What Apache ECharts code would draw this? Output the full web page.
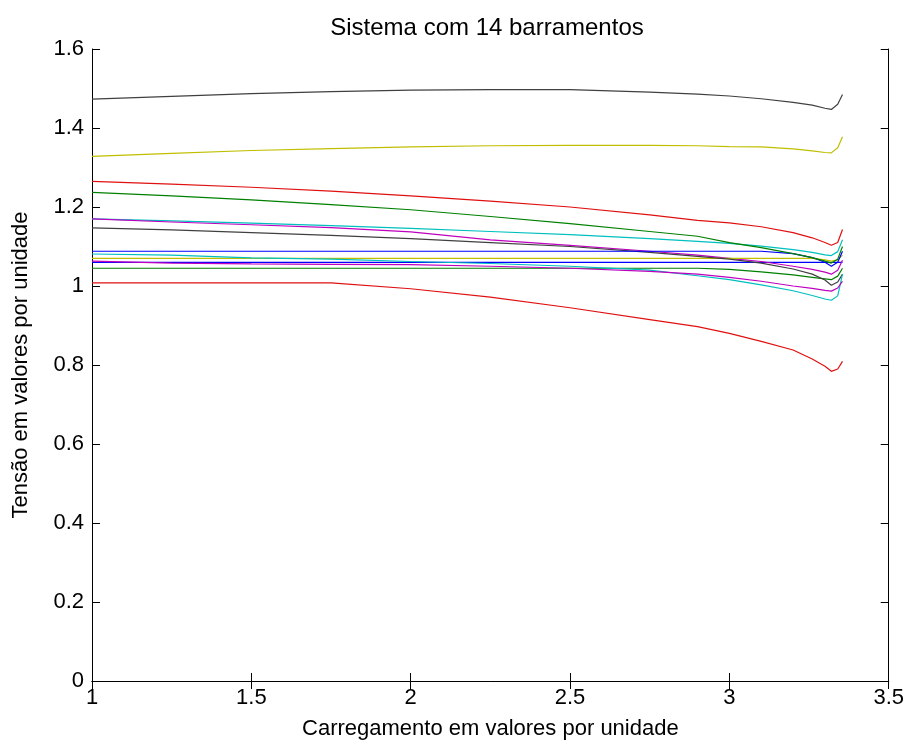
<!DOCTYPE html>
<html>
<head>
<meta charset="utf-8">
<script src="https://cdn.jsdelivr.net/npm/echarts@6/dist/echarts.min.js"></script>
<style>
html,body{margin:0;padding:0;background:#fff;}
#chart{width:907px;height:745px;}
</style>
</head>
<body>
<div id="chart"></div>
<script>
// Loading (x) values, p.u.
var loadX = [1.0, 1.25, 1.5, 1.75, 2.0, 2.25, 2.5, 2.75, 2.9, 3.0, 3.1, 3.2, 3.26, 3.3, 3.32, 3.34, 3.355];

// Bus voltages (p.u.)
var bus1  = [1.060,1.060,1.060,1.060,1.060,1.060,1.060,1.060,1.060,1.060,1.060,1.060,1.060,1.060,1.060,1.060,1.060];
var bus2  = [1.045,1.045,1.045,1.045,1.045,1.045,1.045,1.045,1.045,1.042,1.036,1.028,1.022,1.018,1.016,1.025,1.045];
var bus3  = [1.008,1.008,1.008,1.008,0.993,0.972,0.945,0.915,0.897,0.880,0.860,0.838,0.815,0.797,0.784,0.790,0.809];
var bus4  = [1.170,1.165,1.159,1.153,1.146,1.138,1.130,1.120,1.113,1.108,1.101,1.092,1.085,1.079,1.077,1.087,1.117];
var bus5  = [1.170,1.162,1.155,1.148,1.137,1.117,1.103,1.088,1.078,1.070,1.062,1.050,1.042,1.035,1.030,1.040,1.065];
var bus6  = [1.070,1.070,1.070,1.070,1.070,1.070,1.070,1.070,1.070,1.070,1.070,1.070,1.070,1.066,1.063,1.066,1.078];
var bus7  = [1.147,1.142,1.135,1.128,1.120,1.110,1.100,1.085,1.075,1.068,1.058,1.043,1.030,1.015,1.002,1.010,1.030];
var bus8  = [1.088,1.088,1.088,1.088,1.088,1.088,1.088,1.088,1.088,1.088,1.088,1.082,1.072,1.060,1.050,1.060,1.088];
var bus9  = [1.237,1.228,1.218,1.206,1.193,1.176,1.158,1.138,1.126,1.110,1.097,1.082,1.072,1.063,1.058,1.068,1.100];
var bus10 = [1.265,1.258,1.250,1.240,1.228,1.215,1.200,1.180,1.166,1.160,1.150,1.135,1.122,1.110,1.103,1.110,1.143];
var bus11 = [1.081,1.078,1.071,1.068,1.062,1.057,1.050,1.040,1.026,1.016,1.003,0.988,0.976,0.967,0.964,0.975,1.030];
var bus12 = [1.063,1.058,1.056,1.055,1.054,1.050,1.045,1.037,1.030,1.022,1.012,1.000,0.994,0.989,0.987,0.995,1.012];
var bus13 = [1.328,1.336,1.343,1.348,1.352,1.355,1.356,1.356,1.355,1.353,1.352,1.347,1.342,1.338,1.337,1.350,1.378];
var bus14 = [1.473,1.480,1.487,1.492,1.496,1.497,1.497,1.491,1.486,1.481,1.474,1.465,1.458,1.450,1.447,1.460,1.485];

var titleText = 'Sistema com 14 barramentos';
var xName = 'Carregamento em valores por unidade';
var yName = 'Tensão em valores por unidade';

var busList = [bus1,bus2,bus3,bus4,bus5,bus6,bus7,bus8,bus9,bus10,bus11,bus12,bus13,bus14];
var colorOrder = ['#0000ff','#008000','#e01010','#00bfbf','#bf00bf','#bfbf00','#404040'];

var FONT = 'Liberation Sans, Arial, sans-serif';

var series = busList.map(function(v, k){
  return {
    type:'line',
    data: loadX.map(function(x,i){ return [x, v[i]]; }),
    showSymbol:false,
    symbol:'none',
    lineStyle:{width:1.2, color: colorOrder[k % 7]},
    itemStyle:{color: colorOrder[k % 7]},
    silent:true,
    animation:false,
    xAxisIndex:0, yAxisIndex:0
  };
});

var tickStyle = {show:true, inside:true, length:8, lineStyle:{color:'#000', width:1}};
var lineStyle = {show:true, lineStyle:{color:'#000', width:1}};

var chart = echarts.init(document.getElementById('chart'), null, {renderer:'canvas'});
chart.setOption({
  backgroundColor:'#fff',
  animation:false,
  graphic:[{
    type:'text', x:487, y:28,
    style:{text:titleText, fontFamily:FONT, fontSize:24, fill:'#000', align:'center', verticalAlign:'middle'},
    silent:true
  }],
  grid:{left:92, right:12, top:49, bottom:63, containLabel:false},
  xAxis:[{
    type:'value', min:1, max:3.5, interval:0.5, position:'bottom',
    axisLine:lineStyle, axisTick:tickStyle, splitLine:{show:false},
    axisLabel:{fontFamily:FONT, fontSize:22, color:'#000', margin:6},
    name:xName, nameLocation:'middle', nameGap:37,
    nameTextStyle:{fontFamily:FONT, fontSize:22, color:'#000'}
  },{
    type:'value', min:1, max:3.5, interval:0.5, position:'top',
    axisLine:lineStyle, axisTick:tickStyle, axisLabel:{show:false}, splitLine:{show:false}
  }],
  yAxis:[{
    type:'value', min:0, max:1.6, interval:0.2, position:'left',
    axisLine:lineStyle, axisTick:tickStyle, splitLine:{show:false},
    axisLabel:{fontFamily:FONT, fontSize:22, color:'#000', margin:8},
    name:yName, nameLocation:'middle', nameGap:60, nameRotate:90,
    nameTextStyle:{fontFamily:FONT, fontSize:22, color:'#000'}
  },{
    type:'value', min:0, max:1.6, interval:0.2, position:'right',
    axisLine:lineStyle, axisTick:tickStyle, axisLabel:{show:false}, splitLine:{show:false}
  }],
  series: series
});
</script>
</body>
</html>
